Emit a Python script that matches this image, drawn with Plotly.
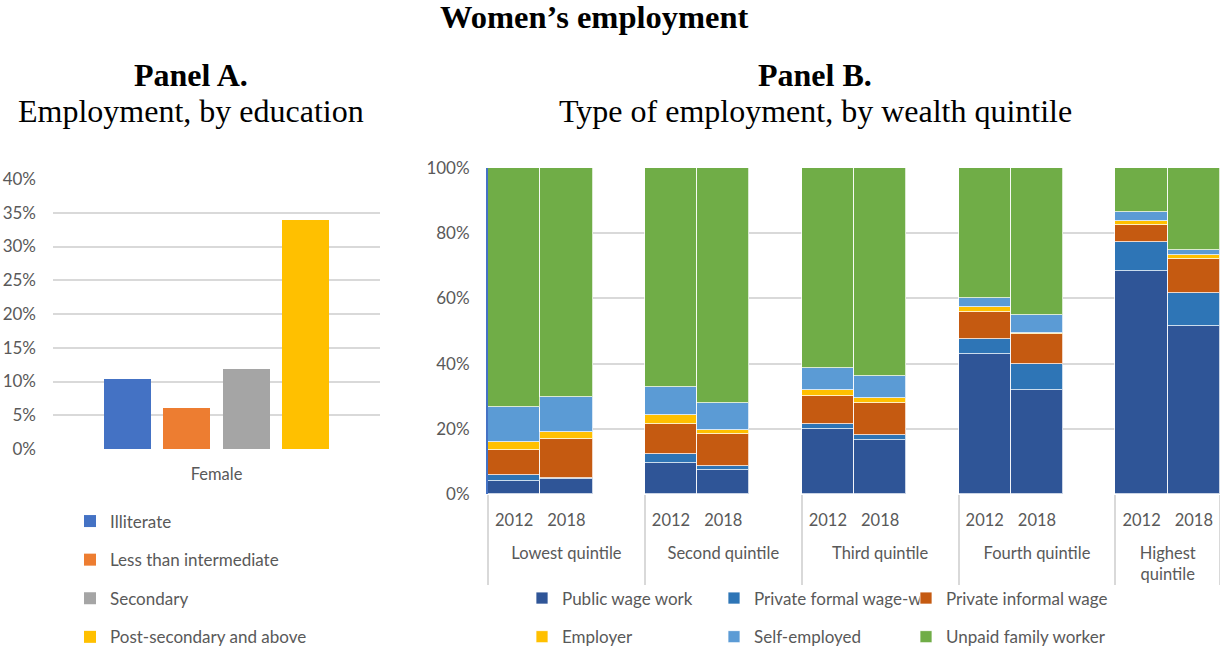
import plotly.graph_objects as go

# ---------------- Data ----------------
edu_levels = ["Illiterate", "Less than intermediate", "Secondary", "Post-secondary and above"]
edu_values = [0.104, 0.061, 0.118, 0.340]
edu_colors = ["#4472C4", "#ED7D31", "#A5A5A5", "#FFC000"]

quintiles = ["Lowest quintile", "Second quintile", "Third quintile", "Fourth quintile", "Highest<br>quintile"]
years = ["2012", "2018"]

public_wage = [0.041, 0.047, 0.094, 0.073, 0.198, 0.165, 0.428, 0.319, 0.685, 0.514]
private_formal = [0.016, 0.001, 0.029, 0.014, 0.017, 0.015, 0.046, 0.079, 0.089, 0.102]
private_informal = [0.079, 0.122, 0.093, 0.098, 0.087, 0.098, 0.085, 0.092, 0.050, 0.106]
employer = [0.025, 0.019, 0.026, 0.012, 0.017, 0.017, 0.015, 0.005, 0.013, 0.012]
self_employed = [0.107, 0.110, 0.087, 0.081, 0.066, 0.068, 0.028, 0.054, 0.029, 0.013]
unpaid_family = [0.732, 0.701, 0.671, 0.722, 0.615, 0.637, 0.398, 0.451, 0.134, 0.253]

type_names = ["Public wage work", "Private formal wage-w", "Private informal wage",
              "Employer", "Self-employed", "Unpaid family worker"]
type_values = [public_wage, private_formal, private_informal, employer, self_employed, unpaid_family]
type_colors = ["#2F5597", "#2E75B6", "#C55A11", "#FFC000", "#5B9BD5", "#70AD47"]

W, H = 1220, 649
GRAY = "#595959"
GRID = "#D9D9D9"
NBSP = "\u00a0"
# invisible spacer line under the year labels (pushes the quintile row down)
SPACER = "<br><span style='font-size:37px'>" + NBSP + "</span>"


def px_x(p):
    return p / W


def px_y(p):
    return 1 - p / H


# Multicategory x with an empty slot between quintile groups (as in the source chart)
x_lvl1, x_lvl2 = [], []
for qi, q in enumerate(quintiles):
    for yr in years:
        x_lvl1.append(q)
        x_lvl2.append(yr + SPACER)
    if qi < len(quintiles) - 1:
        x_lvl1.append(q)
        x_lvl2.append(NBSP * (qi + 1))


def spread(vals):
    out = []
    for qi in range(len(quintiles)):
        out += vals[2 * qi:2 * qi + 2]
        if qi < len(quintiles) - 1:
            out.append(None)
    return out


fig = go.Figure()

# Panel A
for name, val, col in zip(edu_levels, edu_values, edu_colors):
    fig.add_trace(go.Bar(
        x=[name], y=[val], name=name, marker=dict(color=col, line=dict(width=0)),
        width=0.79, xaxis="x", yaxis="y", legend="legend", legendgroup=name,
    ))

# Panel B (legend laid out as 3 columns x 2 rows)
legend_cols = ["legend2", "legend3", "legend4"]
for i, (name, vals, col) in enumerate(zip(type_names, type_values, type_colors)):
    fig.add_trace(go.Bar(
        x=[x_lvl1, x_lvl2], y=spread(vals), name=name,
        marker=dict(color=col, line=dict(color="rgba(255,255,255,0.75)", width=1)),
        xaxis="x2", yaxis="y2", legend=legend_cols[i % 3], legendgroup=name,
    ))

SERIF = "Liberation Serif"
annotations = [
    dict(text="<b>Women’s employment</b>", x=px_x(594), y=px_y(17), font=dict(size=32.5, family=SERIF, color="black")),
    dict(text="<b>Panel A.</b>", x=px_x(191), y=px_y(75), font=dict(size=32, family=SERIF, color="black")),
    dict(text="Employment, by education", x=px_x(191), y=px_y(111), font=dict(size=32, family=SERIF, color="black")),
    dict(text="<b>Panel B.</b>", x=px_x(815), y=px_y(75), font=dict(size=32, family=SERIF, color="black")),
    dict(text="Type of employment, by wealth quintile", x=px_x(815), y=px_y(111), font=dict(size=32, family=SERIF, color="black")),
]
for a in annotations:
    a.update(xref="paper", yref="paper", xanchor="center", yanchor="middle", showarrow=False)

legend_common = dict(
    xanchor="left", yanchor="top", orientation="v", tracegroupgap=13.5,
    font=dict(size=17, color=GRAY), bgcolor="rgba(0,0,0,0)",
)

fig.update_layout(
    width=W, height=H,
    margin=dict(l=0, r=0, t=0, b=0, autoexpand=False),
    paper_bgcolor="white", plot_bgcolor="white",
    barmode="stack", bargap=0,
    font=dict(family="Lato", size=16, color=GRAY),
    annotations=annotations,
    xaxis=dict(
        domain=[px_x(53), px_x(380)], anchor="y", type="category",
        categoryorder="array", categoryarray=edu_levels,
        range=[-1.257, 4.257], showticklabels=False, showgrid=False, zeroline=False,
        ticks="", title=dict(text="Female", standoff=19, font=dict(size=16.5, color=GRAY)),
    ),
    yaxis=dict(
        domain=[px_y(449), px_y(179)], anchor="x", range=[0, 0.4], dtick=0.05,
        tickformat=".0%", gridcolor=GRID, gridwidth=1.5, zeroline=False,
        showline=False, ticks="", ticklabelstandoff=16, tickfont=dict(size=17, color=GRAY),
    ),
    xaxis2=dict(
        domain=[px_x(488), 1.0], anchor="y2", type="multicategory",
        showdividers=True, dividercolor=GRID, dividerwidth=1.5,
        showgrid=False, zeroline=False, ticks="", ticklabelstandoff=14,
        tickfont=dict(size=16.5, color=GRAY),
    ),
    yaxis2=dict(
        domain=[px_y(494), px_y(168)], anchor="x2", range=[0, 1], dtick=0.2,
        tickformat=".0%", gridcolor=GRID, gridwidth=1.5, zeroline=False,
        showline=True, linecolor="#4472C4", linewidth=2, ticks="",
        ticklabelstandoff=13, tickfont=dict(size=17, color=GRAY),
    ),
    legend=dict(x=px_x(70), y=px_y(503.5), **legend_common),
    legend2=dict(x=px_x(522), y=px_y(580.5), **legend_common),
    legend3=dict(x=px_x(714), y=px_y(580.5), **legend_common),
    legend4=dict(x=px_x(906), y=px_y(580.5), **legend_common),
)

fig.write_html("out.html")
